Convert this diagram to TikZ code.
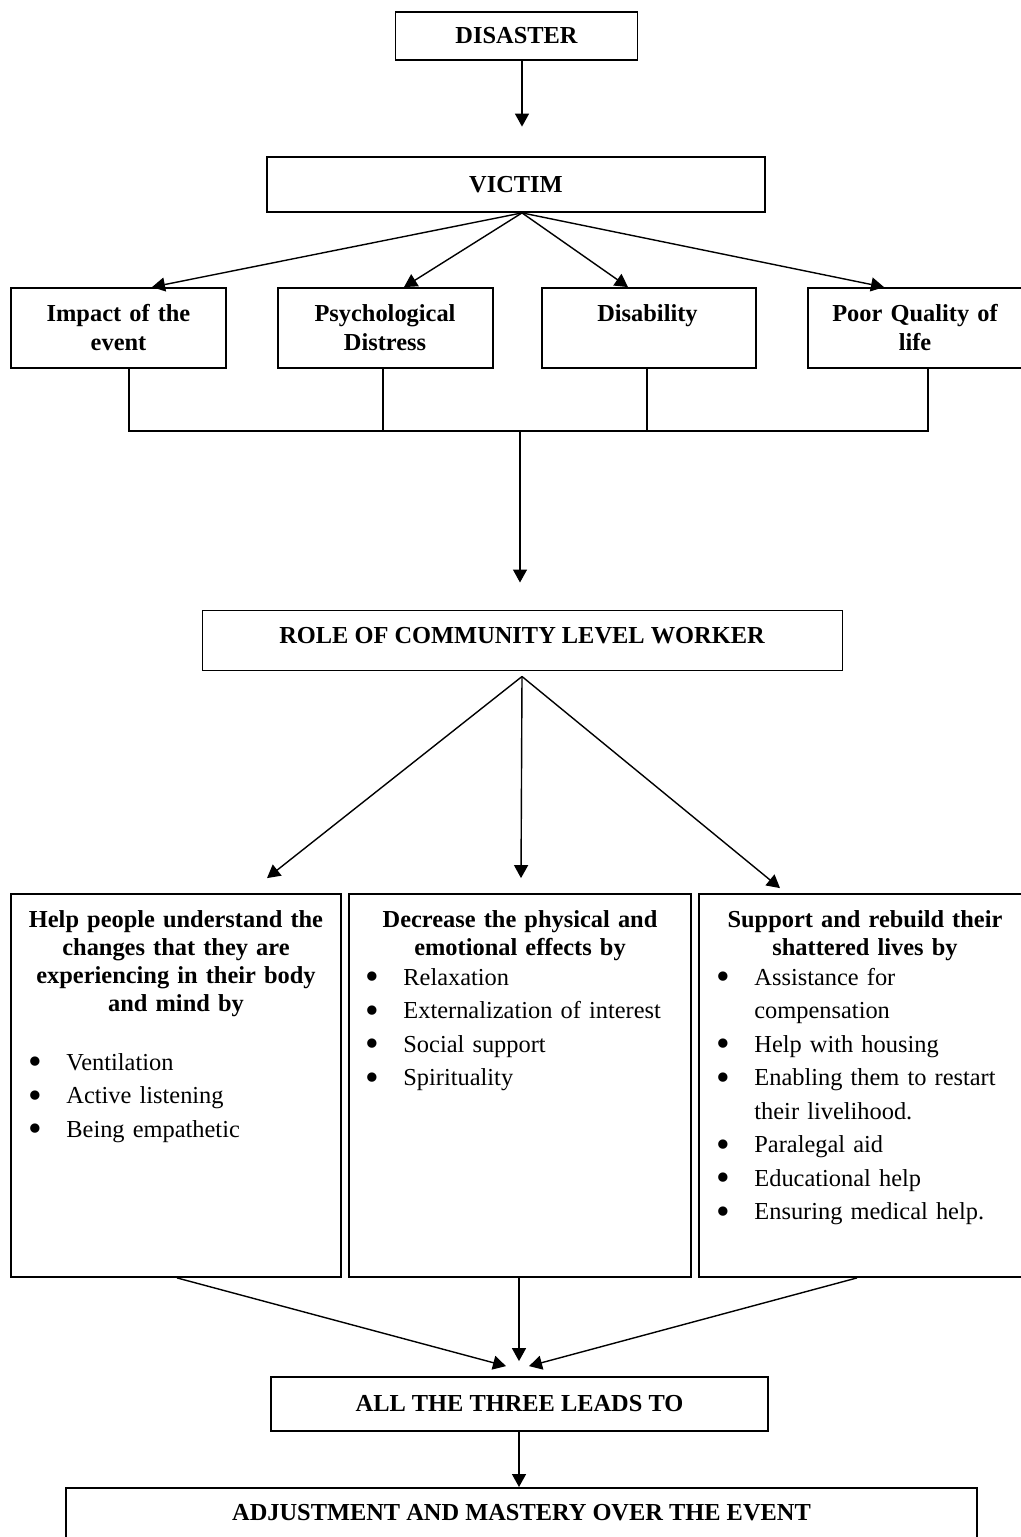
\documentclass[tikz,border=0pt]{standalone}
\usepackage{fontspec}
\setmainfont{Liberation Serif}
\usetikzlibrary{arrows.meta}
\newcommand\bit{\makebox[18.9pt][l]{\smash{\raisebox{-2.4pt}{\fontsize{19.5}{0}\selectfont\textbullet}}}}
\begin{document}
\begin{tikzpicture}[x=0.5pt,y=-0.5pt,
  box/.style={draw, line width=0.9pt, inner sep=0pt, font=\fontsize{12.2}{14.5}\selectfont\bfseries},
  arr/.style={line width=0.7pt, -{Triangle[length=6.5pt,width=7pt]}},
  con/.style={line width=0.7pt},
  hds/.style={anchor=base, inner sep=0pt, text width=110pt, align=center, font=\fontsize{12.2}{14.5}\selectfont\bfseries},
  hdb/.style={anchor=base, inner sep=0pt, text width=165pt, align=center, font=\fontsize{12.2}{14.15}\selectfont\bfseries},
  bl/.style={anchor=base west, inner sep=0pt, text width=165pt, align=left, font=\fontsize{12.2}{16.75}\selectfont}]
\useasboundingbox (0,0) rectangle (1021,1537);

% boxes
\node[box, minimum width=121pt, minimum height=24pt] (dis) at (516.5,36) {DISASTER};
\node[box, minimum width=249pt, minimum height=27.5pt] (vic) at (516,184.5) {VICTIM};
\node[box, minimum width=107.5pt, minimum height=40pt] (imp) at (118.5,328) {};
\node[box, minimum width=107.5pt, minimum height=40pt] (psy) at (385.5,328) {};
\node[box, minimum width=107pt, minimum height=40pt] (disab) at (649,328) {};
\node[box, minimum width=108pt, minimum height=40pt] (poor) at (916,328) {};
\node[box, line width=0.5pt, minimum width=320pt, minimum height=30pt, text depth=5pt] (role) at (522,640) {ROLE OF COMMUNITY LEVEL WORKER};
\node[box, minimum width=165pt, minimum height=191.5pt] (help) at (176,1085.5) {};
\node[box, minimum width=171pt, minimum height=191.5pt] (decr) at (520,1085.5) {};
\node[box, minimum width=166pt, minimum height=191.5pt] (supp) at (865,1085.5) {};
\node[box, minimum width=248.5pt, minimum height=27pt] (all) at (519.5,1404) {ALL THE THREE LEADS TO};
\node[box, anchor=north, minimum width=455.5pt, inner ysep=8.5pt, text height=8pt, text depth=30pt] (adj) at (521.5,1487) {ADJUSTMENT AND MASTERY OVER THE EVENT};

% texts in boxes
\node[hds] (timp) at (118.5,321) {Impact of the\\event};
\node[hds] (tpsy) at (385,321) {Psychological\\Distress};
\node[hds] (tdis) at (647.5,321) {Disability};
\node[hds] (tpoor) at (915,321) {Poor Quality of\\life};

\node[hdb] (thelp) at (176,927) {Help people understand the\\changes that they are\\experiencing in their body\\and mind by};
\node[bl] (lhelp) at (28.2,1070) {\bit Ventilation\\\bit Active listening\\\bit Being empathetic};

\node[hdb] (tdecr) at (520,927) {Decrease the physical and\\emotional effects by};
\node[bl] (ldecr) at (365.2,985) {\bit Relaxation\\\bit Externalization of interest\\\bit Social support\\\bit Spirituality};

\node[hdb] (tsupp) at (865,927) {Support and rebuild their\\shattered lives by};
\node[bl] (lsupp) at (716.2,985) {\bit Assistance for\\\hspace*{18.9pt}compensation\\\bit Help with housing\\\bit Enabling them to restart\\\hspace*{18.9pt}their livelihood.\\\bit Paralegal aid\\\bit Educational help\\\bit Ensuring medical help.};

% connectors
\draw[arr] ([shift={(5.5,0)}]dis.south) -- ([shift={(6,-29.5)}]vic.north);

\draw[arr] ([shift={(6,0)}]vic.south) -- ([shift={(33.5,0)}]imp.north);
\draw[arr] ([shift={(6,0)}]vic.south) -- ([shift={(18.5,0)}]psy.north);
\draw[arr] ([shift={(6,0)}]vic.south) -- ([shift={(-21,0)}]disab.north);
\draw[arr] ([shift={(6,0)}]vic.south) -- ([shift={(-32,0)}]poor.north);

\coordinate (bus) at (520,431);
\draw[con] ([shift={(10.5,0)}]imp.south) |- (bus) -| ([shift={(12,0)}]poor.south);
\draw[con] ([shift={(-2.5,0)}]psy.south) -- ++(0,63);
\draw[con] ([shift={(-2,0)}]disab.south) -- ++(0,63);
\draw[arr] (bus) -- ([shift={(-2,-27)}]role.north);

\draw[arr] ([shift={(0,6)}]role.south) -- ([shift={(91,-15)}]help.north);
\draw[arr] ([shift={(0,6)}]role.south) -- ([shift={(1,-15)}]decr.north);
\draw[arr] ([shift={(0,6)}]role.south) -- ([shift={(-85,-5)}]supp.north);

\draw[arr] ([shift={(1,0)}]help.south) -- ([shift={(-13.5,-10)}]all.north);
\draw[arr] ([shift={(-1,0)}]decr.south) -- ([shift={(-0.5,-15)}]all.north);
\draw[arr] ([shift={(-8,0)}]supp.south) -- ([shift={(9.5,-10)}]all.north);

\draw[arr] ([shift={(-0.5,0)}]all.south) -- ([shift={(-2.5,0)}]adj.north);
\end{tikzpicture}
\end{document}
